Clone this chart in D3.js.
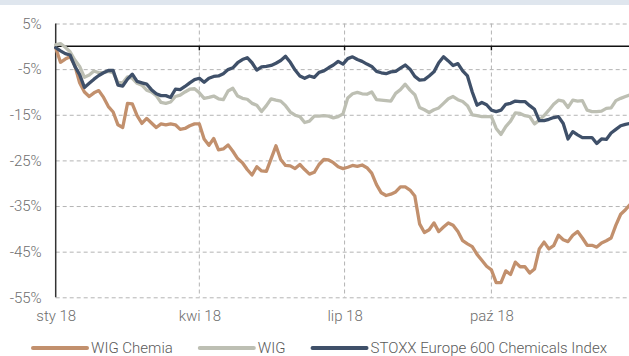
<!DOCTYPE html>
<html>
<head>
<meta charset="utf-8">
<script src="https://cdn.jsdelivr.net/npm/d3@7"></script>
<style>
  html, body { margin: 0; padding: 0; background: #fff; }
  svg { display: block; font-family: Roboto, "Noto Sans", sans-serif; }
</style>
</head>
<body>
<svg id="chart" width="629" height="356"></svg>
<script>
// Observation dates (every third day of 2018)
const dates = [
  "2018-01-01","2018-01-04","2018-01-07","2018-01-10","2018-01-13","2018-01-16","2018-01-19","2018-01-22","2018-01-25","2018-01-28","2018-01-31",
  "2018-02-03","2018-02-06","2018-02-09","2018-02-12","2018-02-15","2018-02-18","2018-02-21","2018-02-24","2018-02-27",
  "2018-03-02","2018-03-05","2018-03-08","2018-03-11","2018-03-14","2018-03-17","2018-03-20","2018-03-23","2018-03-26","2018-03-29",
  "2018-04-01","2018-04-04","2018-04-07","2018-04-10","2018-04-13","2018-04-16","2018-04-19","2018-04-22","2018-04-25","2018-04-28",
  "2018-05-01","2018-05-04","2018-05-07","2018-05-10","2018-05-13","2018-05-16","2018-05-19","2018-05-22","2018-05-25","2018-05-28","2018-05-31",
  "2018-06-03","2018-06-06","2018-06-09","2018-06-12","2018-06-15","2018-06-18","2018-06-21","2018-06-24","2018-06-27","2018-06-30",
  "2018-07-03","2018-07-06","2018-07-09","2018-07-12","2018-07-15","2018-07-18","2018-07-21","2018-07-24","2018-07-27","2018-07-30",
  "2018-08-02","2018-08-05","2018-08-08","2018-08-11","2018-08-14","2018-08-17","2018-08-20","2018-08-23","2018-08-26","2018-08-29",
  "2018-09-01","2018-09-04","2018-09-07","2018-09-10","2018-09-13","2018-09-16","2018-09-19","2018-09-22","2018-09-25","2018-09-28",
  "2018-10-01","2018-10-04","2018-10-07","2018-10-10","2018-10-13","2018-10-16","2018-10-19","2018-10-22","2018-10-25","2018-10-28","2018-10-31",
  "2018-11-03","2018-11-06","2018-11-09","2018-11-12","2018-11-15","2018-11-18","2018-11-21","2018-11-24","2018-11-27","2018-11-30",
  "2018-12-03","2018-12-06","2018-12-09","2018-12-12","2018-12-15","2018-12-18","2018-12-21","2018-12-24","2018-12-27"
];

// Cumulative change since start of year, %
const wigChemia = [
  -0.3,-3.5,-2.8,-2.3,-4.2,-8.0,-10.0,-11.0,-10.2,-9.7,
  -11.2,-13.2,-14.4,-17.2,-17.8,-12.5,-12.6,-15.2,-16.9,-15.8,
  -16.8,-17.8,-17.0,-17.2,-17.0,-17.2,-18.2,-18.0,-17.4,-17.0,
  -17.0,-20.3,-21.7,-20.2,-22.7,-22.5,-21.6,-23.0,-24.6,-25.5,
  -27.0,-28.2,-26.4,-27.3,-27.4,-24.6,-21.8,-24.8,-26.1,-26.2,
  -26.8,-25.9,-27.0,-28.0,-27.6,-25.9,-24.8,-24.9,-25.5,-26.4,
  -26.8,-26.5,-26.1,-26.3,-26.0,-26.6,-27.8,-30.3,-32.1,-32.7,
  -32.4,-31.9,-30.8,-30.8,-31.5,-32.8,-38.9,-40.8,-40.2,-38.7,
  -40.6,-39.6,-38.7,-39.2,-40.6,-42.6,-43.3,-43.9,-45.6,-46.9,
  -48.2,-49.0,-51.8,-51.8,-49.2,-50.0,-47.3,-48.3,-48.3,-49.7,
  -48.8,-44.4,-42.9,-44.4,-43.7,-41.4,-42.4,-42.8,-41.4,-40.6,
  -42.0,-43.6,-43.6,-44.0,-43.1,-42.6,-42.0,-39.2,-36.8,-35.8,
  -34.6
];

const wig = [
  0.3,0.6,-0.2,-1.2,-3.0,-4.4,-6.8,-6.3,-5.4,-5.8,
  -5.7,-5.5,-5.8,-7.9,-8.0,-6.7,-7.0,-8.1,-8.5,-9.6,
  -10.0,-10.8,-12.3,-12.5,-12.2,-11.0,-10.7,-10.0,-9.4,-9.3,
  -10.2,-11.4,-11.2,-10.9,-11.5,-11.7,-9.8,-9.2,-10.9,-11.4,
  -11.6,-12.5,-12.9,-14.3,-13.0,-11.5,-11.8,-12.0,-13.0,-14.4,
  -15.1,-15.4,-16.7,-16.4,-15.3,-15.3,-15.2,-15.3,-15.7,-15.4,
  -14.8,-11.3,-10.4,-10.1,-10.4,-10.5,-10.0,-11.7,-11.8,-11.9,
  -12.0,-10.3,-9.5,-8.3,-9.6,-10.6,-13.4,-13.9,-14.5,-13.9,
  -13.5,-12.5,-11.5,-11.0,-11.7,-12.1,-13.0,-15.0,-15.2,-15.4,
  -15.4,-15.4,-18.0,-19.3,-17.6,-16.4,-14.6,-14.7,-15.2,-15.4,
  -17.0,-16.2,-15.2,-14.0,-12.7,-11.8,-12.0,-13.4,-11.8,-12.0,
  -11.9,-14.0,-14.3,-14.3,-14.2,-13.6,-13.5,-11.9,-11.4,-11.0,
  -10.6
];

const stoxx = [
  -0.3,-1.0,-1.6,-1.9,-4.4,-6.2,-9.0,-8.1,-7.2,-6.4,
  -5.8,-5.3,-5.3,-8.5,-8.7,-7.2,-6.1,-7.7,-8.0,-8.3,
  -9.5,-10.4,-10.8,-10.8,-11.2,-9.4,-9.5,-8.8,-8.0,-7.3,
  -7.0,-7.9,-7.0,-6.6,-6.5,-6.0,-5.1,-4.7,-3.6,-2.9,
  -2.5,-3.6,-5.2,-4.5,-4.4,-4.2,-3.7,-3.1,-2.2,-3.5,
  -5.2,-6.5,-7.0,-6.5,-6.8,-5.7,-5.4,-4.7,-4.1,-3.3,
  -3.9,-2.7,-2.3,-2.9,-3.3,-3.9,-4.4,-5.5,-5.8,-6.0,
  -5.6,-5.5,-4.8,-4.1,-5.0,-6.6,-7.4,-7.3,-6.5,-5.6,
  -3.6,-2.3,-3.2,-4.2,-3.8,-5.4,-6.5,-10.0,-12.9,-12.3,
  -12.8,-14.0,-14.3,-14.0,-12.7,-12.5,-12.0,-12.1,-12.1,-13.0,
  -13.8,-16.3,-16.3,-16.0,-15.6,-15.4,-16.9,-20.3,-18.7,-19.4,
  -20.0,-20.0,-20.0,-21.3,-20.3,-20.4,-19.0,-18.2,-17.4,-17.1,
  -16.9
];

const yTicks = [5, -5, -15, -25, -35, -45, -55];
const xTickDates = ["2018-01-01", "2018-04-01", "2018-07-01", "2018-10-01"];
const xTickLabels = ["sty 18", "kwi 18", "lip 18", "paź 18"];
const seriesNames = ["WIG Chemia", "WIG", "STOXX Europe 600 Chemicals Index"];

// ---- drawing ----
const W = 629, H = 356;
const plotLeft = 55.7, plotRight = 629, plotTop = 23.5, plotBottom = 297.3;
const colors = ["#c2906d", "#bdbfb3", "#3f5069"];
const parse = d3.timeParse("%Y-%m-%d");
const dateObjs = dates.map(parse);
const tickDateObjs = xTickDates.map(parse);

const svg = d3.select("#chart");

svg.append("rect").attr("x", 0).attr("y", 0).attr("width", W).attr("height", 5).attr("fill", "#dfe6ee");

const x = d3.scaleTime()
  .domain([parse("2018-01-01"), parse("2018-12-31")])
  .range([plotLeft, plotLeft + 364 * 1.596]);
const y = d3.scaleLinear().domain([-55, 5]).range([plotBottom, plotTop]);

// horizontal grid + y labels
const yAxis = svg.append("g")
  .attr("transform", `translate(${plotLeft},0)`)
  .call(d3.axisLeft(y).tickValues(yTicks).tickSize(-(plotRight - plotLeft)).tickPadding(14).tickFormat(d => d + "%"));
yAxis.select(".domain").remove();
yAxis.selectAll(".tick line")
  .attr("stroke", "#b4b4b4").attr("stroke-width", 1).attr("stroke-dasharray", "4,3");
yAxis.selectAll(".tick text")
  .attr("fill", "#6e6e6e").style("font-size", "15px").style("font-weight", 300)
  .style("font-family", "Roboto, sans-serif");

// vertical grid lines (quarters)
svg.append("g").selectAll("line")
  .data(tickDateObjs.slice(1))
  .join("line")
  .attr("x1", d => x(d)).attr("x2", d => x(d))
  .attr("y1", plotTop).attr("y2", plotBottom)
  .attr("stroke", "#b4b4b4").attr("stroke-width", 1).attr("stroke-dasharray", "4,3");

// x labels
const xAxis = svg.append("g")
  .attr("transform", `translate(0,${plotBottom})`)
  .call(d3.axisBottom(x).tickValues(tickDateObjs).tickSize(0).tickPadding(13)
    .tickFormat((d, i) => xTickLabels[i]));
xAxis.select(".domain").remove();
xAxis.selectAll(".tick text")
  .attr("fill", "#6e6e6e").style("font-size", "15px").style("font-weight", 300)
  .style("font-family", "Roboto, sans-serif");

// zero line with quarter ticks
svg.append("line")
  .attr("x1", plotLeft).attr("x2", plotRight).attr("y1", y(0)).attr("y2", y(0))
  .attr("stroke", "#111").attr("stroke-width", 1.6);
svg.append("g").selectAll("line")
  .data(tickDateObjs.slice(1))
  .join("line")
  .attr("x1", d => x(d)).attr("x2", d => x(d))
  .attr("y1", y(0)).attr("y2", y(0) + 4)
  .attr("stroke", "#111").attr("stroke-width", 1.4);

// left axis line
svg.append("line")
  .attr("x1", plotLeft).attr("x2", plotLeft).attr("y1", plotTop).attr("y2", plotBottom)
  .attr("stroke", "#333").attr("stroke-width", 1.5);

// series
const line = d3.line()
  .x((d, i) => x(dateObjs[i]))
  .y(d => y(d));

[wigChemia, wig, stoxx].forEach((vals, i) => {
  svg.append("path")
    .datum(vals)
    .attr("fill", "none")
    .attr("stroke", colors[i])
    .attr("stroke-width", 3.3)
    .attr("stroke-linejoin", "round")
    .attr("stroke-linecap", "round")
    .attr("d", line);
});

// legend
const legend = svg.append("g").attr("transform", "translate(33,348)");
let lx = 0;
seriesNames.forEach((name, i) => {
  const g = legend.append("g").attr("transform", `translate(${lx},0)`);
  g.append("line").attr("x1", 0).attr("x2", 54).attr("y1", 0).attr("y2", 0)
    .attr("stroke", colors[i]).attr("stroke-width", 4).attr("stroke-linecap", "round");
  const t = g.append("text").attr("x", 58).attr("y", 5.2)
    .attr("fill", "#5a5a5a").style("font-size", "15px").style("font-weight", 300)
    .text(name);
  lx += 58 + t.node().getComputedTextLength() + 27;
});
</script>
</body>
</html>
